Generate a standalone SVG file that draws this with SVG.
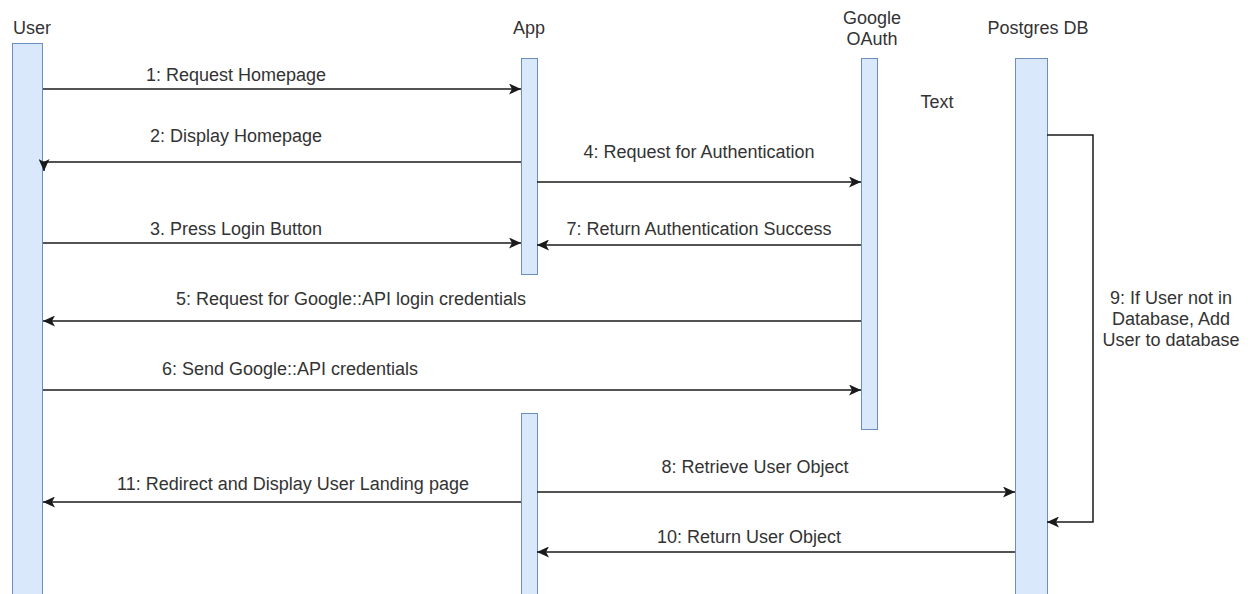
<svg xmlns="http://www.w3.org/2000/svg" width="1250" height="594" viewBox="0 0 1250 594">
<style>
.life{fill:#dae8fc;stroke:#6c8ebf;stroke-width:1}
.t{font-family:"Liberation Sans",Arial,sans-serif;font-size:18px;fill:#333333}
.c{text-anchor:middle}
.msg{fill:none;stroke:#1a1a1a;stroke-width:1.5;marker-end:url(#ah)}
</style>
<defs>
<marker id="ah" markerUnits="userSpaceOnUse" markerWidth="13" markerHeight="11" viewBox="0 0 13 11" refX="12" refY="5.5" orient="auto">
<path d="M0,0 L12,5.5 L0,11 L3,5.5 Z" fill="#1a1a1a"/>
</marker>
</defs>
<rect width="1250" height="594" fill="#ffffff"/>
<g id="user">
<rect class="life" x="12.5" y="43.5" width="30" height="560"/>
<text class="t" x="13" y="34">User</text>
</g>
<g id="app">
<rect class="life" x="521.5" y="58.5" width="16" height="216"/>
<rect class="life" x="521.5" y="413.5" width="16" height="190"/>
<text class="t c" x="529" y="34">App</text>
</g>
<g id="google-oauth">
<rect class="life" x="861.5" y="58.5" width="16" height="371"/>
<text class="t c" x="872" y="24">Google</text>
<text class="t c" x="872" y="45">OAuth</text>
</g>
<g id="postgres-db">
<rect class="life" x="1015.5" y="58.5" width="32" height="545"/>
<text class="t c" x="1038" y="34">Postgres DB</text>
</g>
<g id="text-note">
<text class="t c" x="937" y="108">Text</text>
</g>
<g id="connectors">
<path class="msg" d="M43,89 H521"/>
<text class="t c" x="236" y="81">1: Request Homepage</text>
<path class="msg" d="M521,162 H44 V171"/>
<text class="t c" x="236" y="142">2: Display Homepage</text>
<path class="msg" d="M43,243 H521"/>
<text class="t c" x="236" y="235">3. Press Login Button</text>
<path class="msg" d="M537,182 H861"/>
<text class="t c" x="699" y="158">4: Request for Authentication</text>
<path class="msg" d="M861,245 H537"/>
<text class="t c" x="699" y="235">7: Return Authentication Success</text>
<path class="msg" d="M861,321 H43"/>
<text class="t c" x="351" y="305">5: Request for Google::API login credentials</text>
<path class="msg" d="M43,390 H861"/>
<text class="t c" x="290" y="375">6: Send Google::API credentials</text>
<path class="msg" d="M1047,135 H1093 V522 H1047"/>
<text class="t c" x="1171" y="304">9: If User not in</text>
<text class="t c" x="1171" y="325">Database, Add</text>
<text class="t c" x="1171" y="346">User to database</text>
<path class="msg" d="M537,492 H1015"/>
<text class="t c" x="755" y="473">8: Retrieve User Object</text>
<path class="msg" d="M521,502 H43"/>
<text class="t c" x="293" y="490">11: Redirect and Display User Landing page</text>
<path class="msg" d="M1015,552 H537"/>
<text class="t c" x="749" y="543">10: Return User Object</text>
</g>
</svg>
